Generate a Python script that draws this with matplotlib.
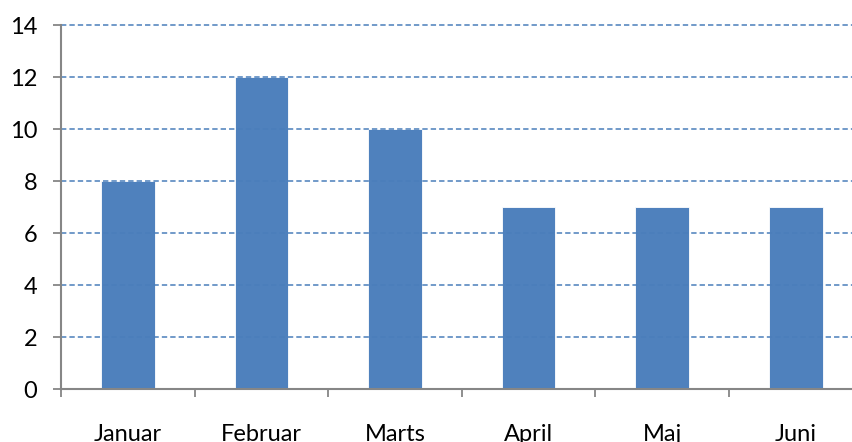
import matplotlib.pyplot as plt
import numpy as np

# data
months = ['Januar', 'Februar', 'Marts', 'April', 'Maj', 'Juni']
values = [8, 12, 10, 7, 7, 7]

plt.rcParams['font.family'] = ['Lato', 'DejaVu Sans']

fig = plt.figure(figsize=(8.53, 4.42), dpi=100)
ax = fig.add_axes([61 / 853, 53 / 442, 801.6 / 853, 364 / 442])

x = np.arange(len(months))
ax.bar(x, values, width=0.4, color='#4F81BD', edgecolor='#ffffff', linewidth=0.6, zorder=2)

ax.set_xlim(-0.5, len(months) - 0.5)
ax.set_ylim(0, 14)
ax.set_yticks(range(0, 15, 2))
ax.yaxis.grid(True, color='#4A7EBB', linestyle=(0, (3.5, 2)), linewidth=1.1, zorder=3)
for gl in ax.get_ygridlines():
    gl.set_clip_on(False)
ax.set_axisbelow(False)

# category boundaries as ticks, names centred between them
ax.set_xticks(np.arange(-0.5, len(months), 1.0))
ax.set_xticklabels([])
ax.set_xticks(x, minor=True)
ax.set_xticklabels(months, minor=True)
ax.tick_params(axis='x', which='major', length=6, width=1.3, color='#868686', direction='out')
ax.tick_params(axis='x', which='minor', length=0, pad=25, labelsize=17)
ax.tick_params(axis='y', length=6, width=1.3, color='#868686', pad=11, labelsize=17)

for s in ['top', 'right']:
    ax.spines[s].set_visible(False)
for s in ['left', 'bottom']:
    ax.spines[s].set_color('#868686')
    ax.spines[s].set_linewidth(1.5)
    ax.spines[s].set_zorder(4)

fig.savefig('out.png', dpi=100)
